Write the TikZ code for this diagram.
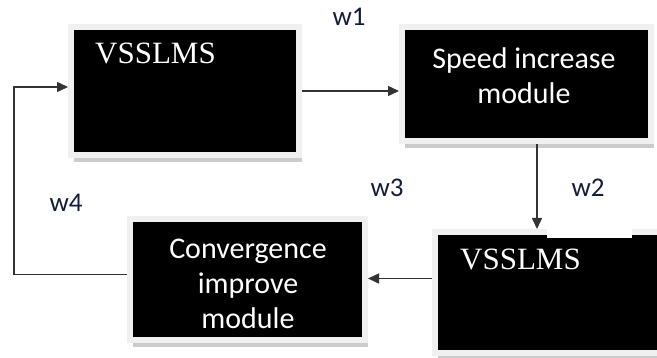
\documentclass[tikz,border=0pt]{standalone}
\usepackage{fontspec}
\setmainfont{Liberation Serif}
\setsansfont{Carlito}
\usetikzlibrary{arrows.meta,shadows}

\definecolor{labelnavy}{RGB}{20,28,60}

\tikzset{
    module/.style={fill=black, draw=gray!12, line width=6pt, inner sep=0pt,
        drop shadow={shadow xshift=3pt, shadow yshift=-7pt, fill=gray!40, opacity=1}},
    modtext/.style={text=white, font=\sffamily\fontsize{30}{35}\selectfont, align=center},
    algtext/.style={text=white, font=\rmfamily\fontsize{31}{36}\selectfont, anchor=west, inner sep=0pt},
    wlabel/.style={text=labelnavy, font=\sffamily\fontsize{27}{30}\selectfont},
    link/.style={draw=black!80, line width=1.5pt, -{Triangle[length=11pt,width=10pt]}},
}

\begin{document}
\begin{tikzpicture}[x=1pt, y=-1pt]
        \useasboundingbox (0,0) rectangle (657,358);

        % the four blocks
        \node[module, minimum width=228pt, minimum height=128pt] (vss1) at (185,91) {};
        \node[module, minimum width=249pt, minimum height=114pt] (speed) at (526.5,84) {};
        \node[module, minimum width=248pt, minimum height=121pt] (vss2) at (559,292.5) {};
        \node[module, minimum width=235pt, minimum height=121pt] (conv) at (247.5,279.5) {};
        \fill[white] (547,227) rectangle (632,238);

        \node[algtext] (vss1txt) at (95,53) {VSSLMS};
        \node[modtext] (speedtxt) at (524,76) {Speed increase\\module};
        \node[algtext] (vss2txt) at (460,259) {VSSLMS};
        \node[modtext] (convtxt) at (248,284) {Convergence\\improve\\module};

        % connectors
        \coordinate (loopleft) at (14,180);
        \draw[link] (vss1.east) -- (vss1.east -| speed.west);
        \draw[link] ([xshift=10.5pt]speed.south) -- ([xshift=10.5pt]speed.south |- vss2.north);
        \draw[link] ([yshift=14pt]vss2.west) -- ([yshift=14pt]vss2.west -| conv.east);
        \draw[link] ([yshift=5pt]conv.west) -| (loopleft) |- ([yshift=4pt]vss1.west);

        \node[wlabel] (w1) at (349,17) {w1};
        \node[wlabel] (w2) at (588,188) {w2};
        \node[wlabel] (w3) at (387,188) {w3};
        \node[wlabel] (w4) at (66,203) {w4};
\end{tikzpicture}
\end{document}
